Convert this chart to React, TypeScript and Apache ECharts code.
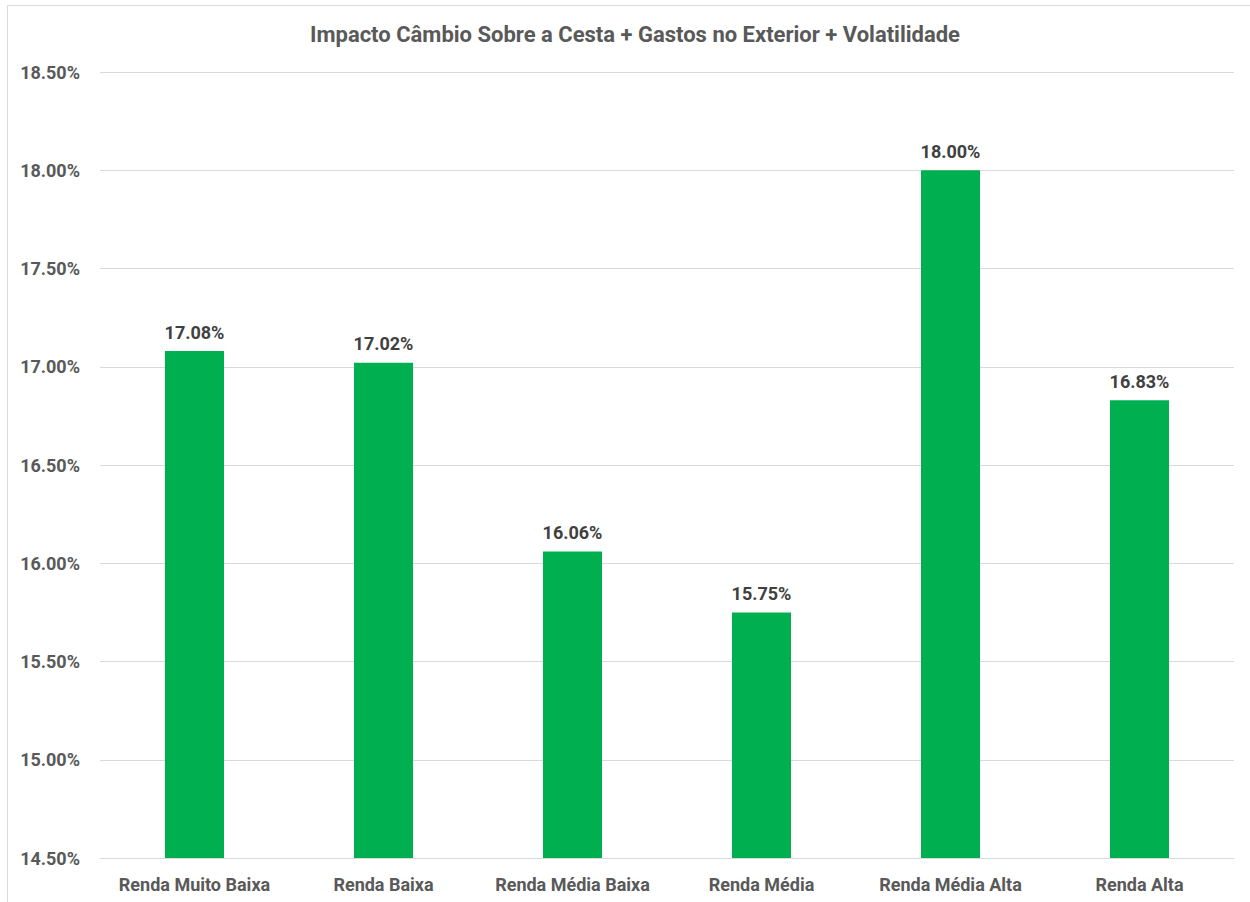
import React, { useEffect, useRef } from "react";
import * as echarts from "echarts";

const categories = [
  "Renda Muito Baixa",
  "Renda Baixa",
  "Renda Média Baixa",
  "Renda Média",
  "Renda Média Alta",
  "Renda Alta",
];
const values = [17.08, 17.02, 16.06, 15.75, 18.0, 16.83];
const title = "Impacto Câmbio Sobre a Cesta + Gastos no Exterior + Volatilidade";
const yMin = 14.5;
const yMax = 18.5;
const yInterval = 0.5;

const FONT = "Roboto, 'Open Sans', sans-serif";

export default function App() {
  const ref = useRef<HTMLDivElement>(null);
  useEffect(() => {
    if (!ref.current) return;
    const chart = echarts.init(ref.current, null, { renderer: "svg" });
    chart.setOption({
      animation: false,
      backgroundColor: "#ffffff",
      title: {
        text: title,
        left: 630,
        textAlign: "center",
        top: 18,
        textStyle: { fontFamily: FONT, fontSize: 22, fontWeight: "bold", color: "#595959" },
      },
      graphic: [
        {
          type: "rect",
          shape: { x: 7.5, y: 5.5, width: 1270, height: 930 },
          style: { fill: "none", stroke: "#d9d9d9", lineWidth: 1 },
          silent: true,
        },
      ],
      grid: { left: 100, right: 16, top: 72, bottom: 44, containLabel: false },
      xAxis: {
        type: "category",
        data: categories,
        axisLine: { show: true, lineStyle: { color: "#d9d9d9", width: 1 } },
        axisTick: { show: false },
        axisLabel: {
          interval: 0,
          hideOverlap: false,
          margin: 17,
          fontFamily: FONT,
          fontSize: 18,
          fontWeight: "bold",
          color: "#595959",
        },
      },
      yAxis: {
        type: "value",
        min: yMin,
        max: yMax,
        interval: yInterval,
        axisLine: { show: false },
        axisTick: { show: false },
        splitLine: { lineStyle: { color: "#d9d9d9", width: 1 } },
        axisLabel: {
          margin: 20,
          fontFamily: FONT,
          fontSize: 18,
          fontWeight: "bold",
          color: "#595959",
          formatter: (v: number) => v.toFixed(2) + "%",
        },
      },
      series: [
        {
          type: "bar",
          data: values,
          barWidth: 59,
          itemStyle: { color: "#00b050" },
          label: {
            show: true,
            position: "top",
            distance: 10,
            fontFamily: FONT,
            fontSize: 18,
            fontWeight: "bold",
            color: "#404040",
            formatter: (p: any) => Number(p.value).toFixed(2) + "%",
          },
        },
      ],
    });
    return () => chart.dispose();
  }, []);
  return (
    <div
      ref={ref}
      style={{ position: "fixed", left: 0, top: 0, width: 1250, height: 902 }}
    />
  );
}
